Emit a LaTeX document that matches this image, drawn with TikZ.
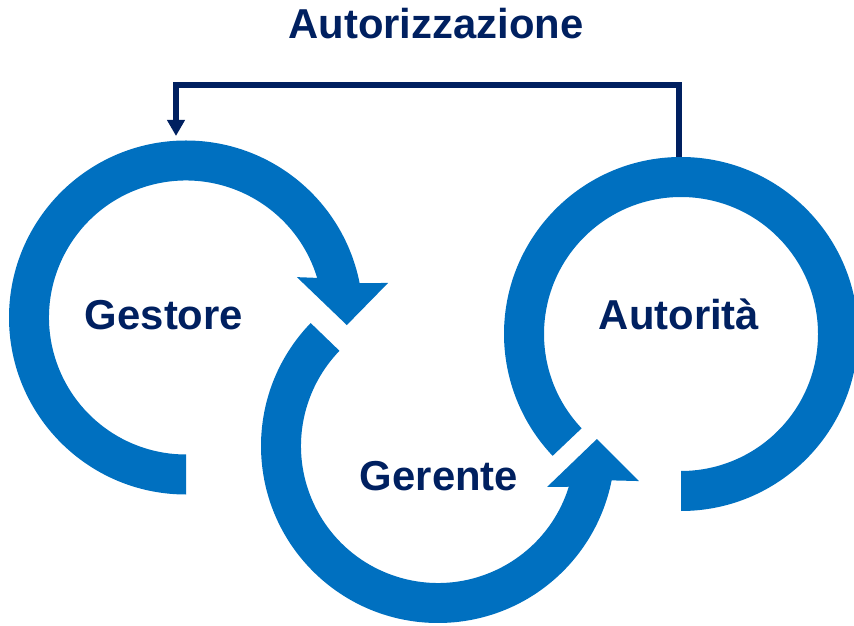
\documentclass[tikz,border=0pt]{standalone}
\usepackage{fontspec}
\setmainfont{Liberation Sans}
\usepackage{tikz}
\usetikzlibrary{arrows.meta}
\definecolor{ringblue}{HTML}{0070C0}
\definecolor{navy}{HTML}{002060}
\tikzset{
    ring/.style={fill=ringblue, draw=none},
    actor/.style={text=navy, font=\bfseries\fontsize{23.8}{28}\selectfont, anchor=base, inner sep=0pt},
    link/.style={draw=navy, line width=0.11cm, -{Triangle[width=0.34cm,length=0.32cm]}}
}

\begin{document}
\begin{tikzpicture}
  [
    x                       = 0.02cm,
    y                       = 0.02cm,
  ]
  \useasboundingbox (0,0) rectangle (854,625);
  \clip (0,0) rectangle (854,625);

  \coordinate (cgestore)  at (186,307.5);
  \coordinate (cgerente)  at (438,179);
  \coordinate (cautorita) at (681,291);

  % Gestore: clockwise, arrow into Gerente
  \begin{scope}[shift={(cgestore)}]
    \fill[ring] (270:177) arc[start angle=270, end angle=11.2, radius=177]
      -- (9.7:205) -- (-2.7:161) -- (20:118) -- (16.8:137)
      arc[start angle=16.8, end angle=270, radius=137] -- cycle;
  \end{scope}

  % Gerente: counterclockwise, arrow into Autorita
  \begin{scope}[shift={(cgerente)}]
    \fill[ring] (136:137) -- (136:177) arc[start angle=136, end angle=348.8, radius=177]
      -- (350.1:204) -- (2.5:159) -- (339.4:116.5) -- (342.7:137)
      arc[start angle=342.7, end angle=136, radius=137] -- cycle;
  \end{scope}

  % Autorita
  \begin{scope}[shift={(cautorita)}]
    \fill[ring] (-90:177) arc[start angle=-90, end angle=223.5, radius=177]
      -- (223.5:137) arc[start angle=223.5, end angle=-90, radius=137] -- cycle;
  \end{scope}

  \node[actor] (gestore)  at (164,295) {Gestore};
  \node[actor] (gerente)  at (439,134) {Gerente};
  \node[actor] (autorita) at (679,295) {Autorità};
  \node[actor] (autorizzazione) at (436,586) {Autorizzazione};

  \coordinate (atop) at (679,468);
  \coordinate (gtop) at (176,489);
  \draw[link] (atop) -- ++(0,72) -| (gtop);
\end{tikzpicture}
\end{document}
